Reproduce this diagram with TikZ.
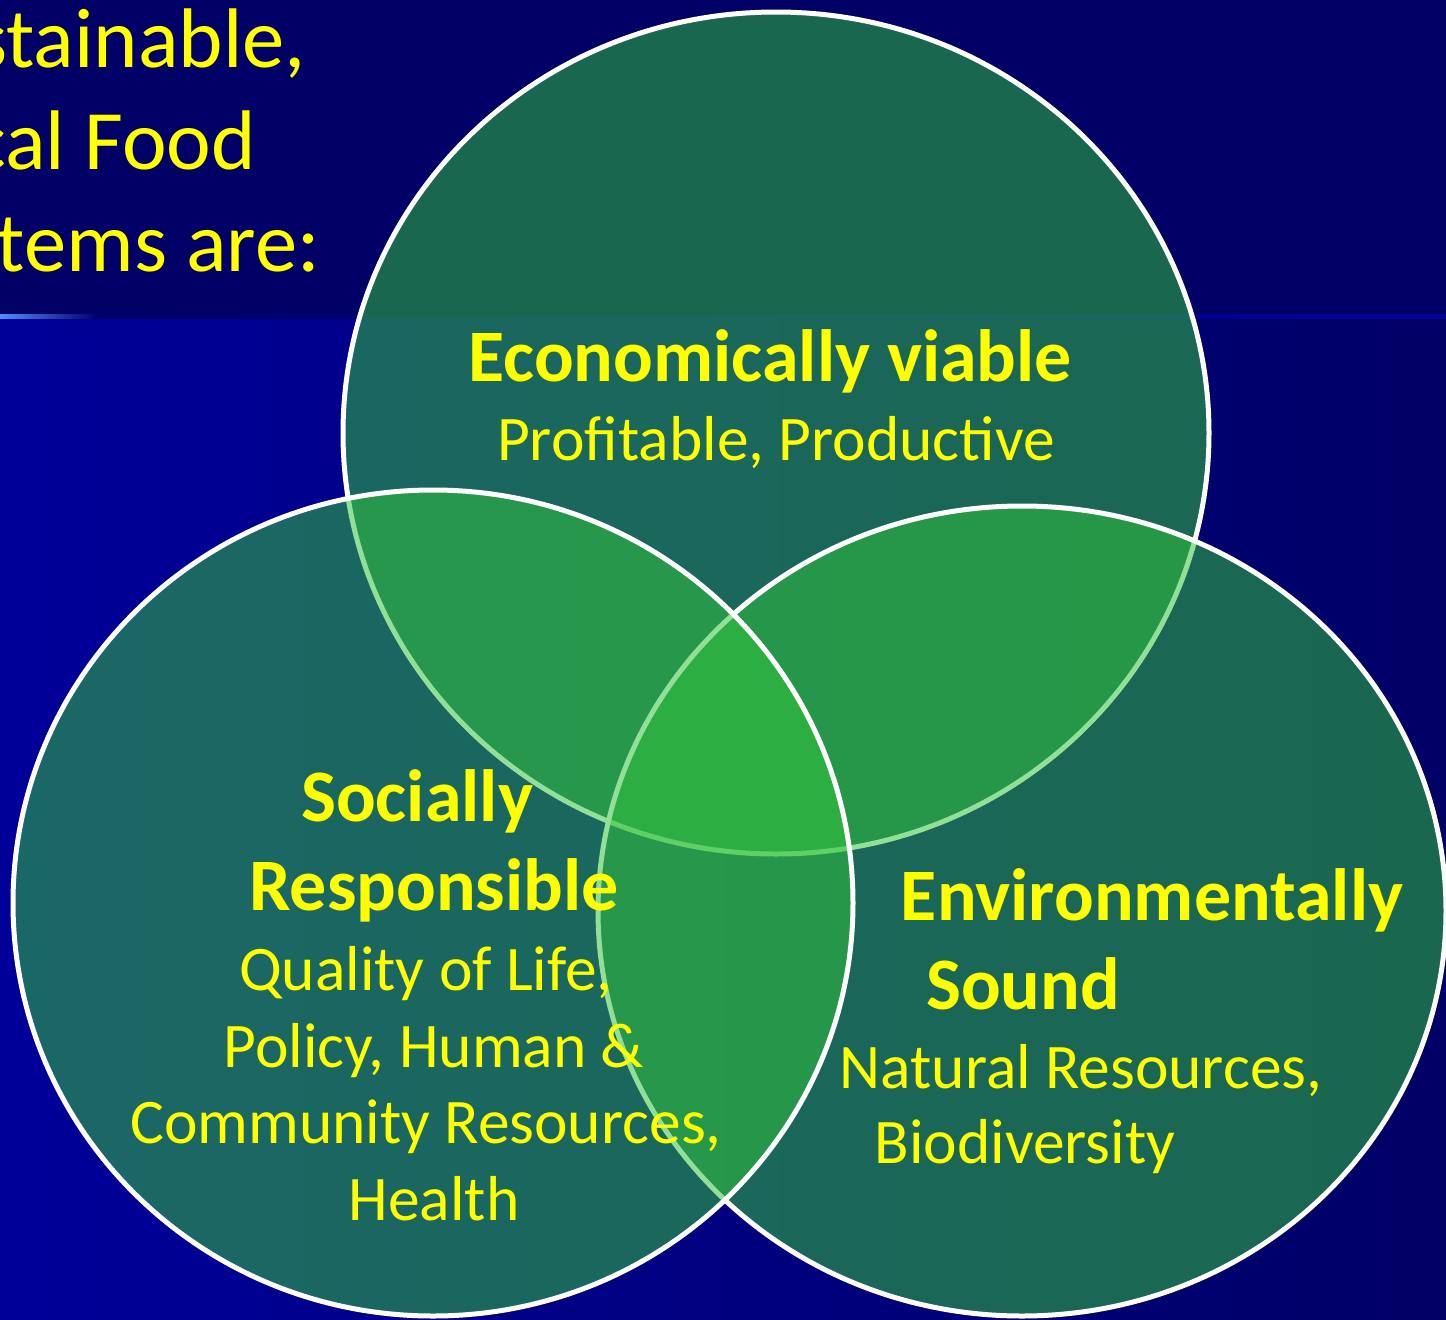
\documentclass[tikz,border=0pt]{standalone}
\usepackage{fontspec}
\setmainfont{Carlito}
\definecolor{slidenavy}{HTML}{000066}
\definecolor{slideblue}{HTML}{000099}
\definecolor{glowblue}{HTML}{4D8CFF}
\definecolor{vennfill}{RGB}{50,195,60}
\definecolor{labelyellow}{HTML}{FFFF00}

\begin{document}
\begin{tikzpicture}[x=1pt, y=-1pt,
    ring/.style={draw=white, line width=5pt, fill=vennfill, fill opacity=0.53},
    titleline/.style={text=labelyellow, inner sep=0pt, anchor=base east, font=\fontsize{84.6}{101}\selectfont},
    headline/.style={text=labelyellow, inner sep=0pt, anchor=base, font=\fontsize{74}{88}\selectfont\bfseries},
    subline/.style={text=labelyellow, inner sep=0pt, anchor=base, font=\fontsize{63.5}{76}\selectfont}]
        \useasboundingbox (0,0) rectangle (1446,1320);
        \clip (0,0) rectangle (1446,1320);

        % Slide background
        \fill[slidenavy] (0,0) rectangle (1446,319);
        \shade[left color=slideblue, right color=slidenavy] (0,319) rectangle (1446,1320);
        \shade[left color=glowblue, right color=slidenavy] (0,314) rectangle (97,318);
        \shade[left color=slidenavy, right color=slideblue] (97,314) rectangle (1446,318);

        % Title (runs off the left edge)
        \node[titleline] (title1) at (306,67) {Sustainable,};
        \node[titleline] (title2) at (256,169) {Local Food};
        \node[titleline] (title3) at (320,271) {Systems are:};

        % The three circles
        \draw[ring] (776,433) ellipse [x radius=433, y radius=421];
        \draw[ring] (1022,911) ellipse [x radius=424, y radius=405];
        \draw[ring] (433,903) ellipse [x radius=420, y radius=413];

        % Top circle labels
        \node[headline] (econ) at (770,381) {Economically viable};
        \node[subline] (econsub) at (776,460) {Profitable, Productive};

        % Left circle labels
        \node[headline] (social1) at (417,821) {Socially};
        \node[headline] (social2) at (434,910) {Responsible};
        \node[subline] (socialsub1) at (426,990) {Quality of Life,};
        \node[subline] (socialsub2) at (434,1067) {Policy, Human \&};
        \node[subline] (socialsub3) at (426,1143) {Community Resources,};
        \node[subline] (socialsub4) at (434,1220) {Health};

        % Right circle labels
        \node[headline] (env1) at (1152,920) {Environmentally};
        \node[headline] (env2) at (1023,1009) {Sound};
        \node[subline] (envsub1) at (1081,1088) {Natural Resources,};
        \node[subline] (envsub2) at (1025,1163) {Biodiversity};
      \end{tikzpicture}
\end{document}
